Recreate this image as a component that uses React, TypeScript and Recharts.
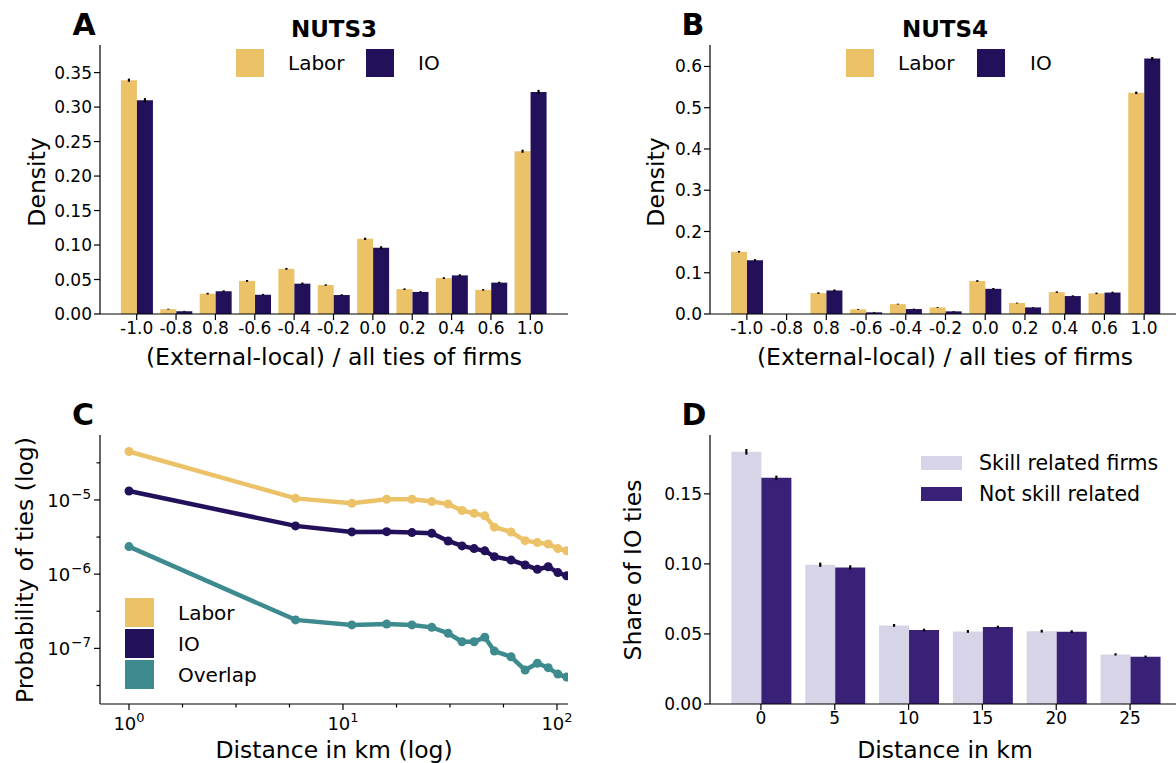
import React from 'react';
import { BarChart, Bar, XAxis, YAxis, ErrorBar, LineChart, Line } from 'recharts';

// ---------- Panel A / B data ----------
const BINS = ['-1.0', '-0.8', '0.8', '-0.6', '-0.4', '-0.2', '0.0', '0.2', '0.4', '0.6', '1.0'];
const NUTS3_LABOR = [0.339, 0.007, 0.0295, 0.048, 0.0655, 0.042, 0.109, 0.036, 0.052, 0.035, 0.236];
const NUTS3_LABOR_ERR = [0.0022, 0.0006, 0.0012, 0.0013, 0.0013, 0.0011, 0.0016, 0.0011, 0.0013, 0.0011, 0.0022];
const NUTS3_IO = [0.31, 0.004, 0.033, 0.028, 0.044, 0.0275, 0.096, 0.032, 0.056, 0.0455, 0.322];
const NUTS3_IO_ERR = [0.003, 0.0006, 0.0013, 0.0011, 0.0016, 0.0011, 0.0022, 0.0011, 0.0016, 0.0013, 0.003];
const NUTS4_LABOR = [0.151, 0, 0.0507, 0.0113, 0.024, 0.016, 0.08, 0.0266, 0.053, 0.05, 0.536];
const NUTS4_LABOR_ERR = [0.002, 0, 0.0018, 0.001, 0.001, 0.001, 0.002, 0.001, 0.0018, 0.0018, 0.003];
const NUTS4_IO = [0.13, 0, 0.057, 0.004, 0.012, 0.0064, 0.061, 0.016, 0.0435, 0.052, 0.619];
const NUTS4_IO_ERR = [0.003, 0, 0.0025, 0.001, 0.001, 0.001, 0.002, 0.001, 0.0018, 0.002, 0.004];
const TICKS_A = [0, 0.05, 0.1, 0.15, 0.2, 0.25, 0.3, 0.35];
const TICKS_B = [0, 0.1, 0.2, 0.3, 0.4, 0.5, 0.6];

// ---------- Panel C data ----------
const DIST_KM = [1, 6, 11, 16, 21, 26, 31, 36, 41, 46, 51, 61, 71, 81, 91, 101, 111];
const LABOR_P = [4.5e-5, 1.05e-5, 9.0e-6, 1.02e-5, 1.02e-5, 9.5e-6, 8.8e-6, 7.2e-6, 6.6e-6, 6.1e-6, 4.3e-6, 3.7e-6, 2.83e-6, 2.66e-6, 2.55e-6, 2.21e-6, 2.07e-6];
const IO_P = [1.32e-5, 4.47e-6, 3.71e-6, 3.74e-6, 3.63e-6, 3.56e-6, 2.8e-6, 2.4e-6, 2.21e-6, 2.06e-6, 1.72e-6, 1.55e-6, 1.33e-6, 1.16e-6, 1.26e-6, 1.05e-6, 9.5e-7];
const OVERLAP_P = [2.35e-6, 2.42e-7, 2.07e-7, 2.13e-7, 2.07e-7, 1.92e-7, 1.6e-7, 1.23e-7, 1.23e-7, 1.41e-7, 9.2e-8, 7.7e-8, 5.1e-8, 6.3e-8, 5.5e-8, 4.5e-8, 4.1e-8];
const C_X_TICKS = [1, 10 ** 0.25, 10 ** 0.5, 10 ** 0.75, 10, 10 ** 1.25, 10 ** 1.5, 10 ** 1.75, 100];
const C_Y_TICKS = [10 ** -7.5, 1e-7, 10 ** -6.5, 1e-6, 10 ** -5.5, 1e-5, 10 ** -4.5];

// ---------- Panel D data ----------
const DIST_BINS = ['0', '5', '10', '15', '20', '25'];
const SKILL = [0.18, 0.0994, 0.0561, 0.0518, 0.052, 0.0354];
const SKILL_ERR = [0.002, 0.0015, 0.001, 0.001, 0.001, 0.0008];
const NOT_SKILL = [0.1614, 0.0975, 0.0528, 0.0549, 0.0516, 0.0338];
const NOT_SKILL_ERR = [0.0016, 0.0015, 0.001, 0.001, 0.001, 0.0008];
const TICKS_D = [0, 0.05, 0.1, 0.15];

const FONT = 'DejaVu Sans';
const C_LABOR = '#ecc268';
const C_IO = '#23105b';
const C_OVER = '#3e8b8f';
const C_SKILL = '#d8d4e7';
const C_NOT = '#3a2178';

const nuts3 = BINS.map((b, i) => ({ bin: b, labor: NUTS3_LABOR[i], laborErr: NUTS3_LABOR_ERR[i], io: NUTS3_IO[i], ioErr: NUTS3_IO_ERR[i] }));
const nuts4 = BINS.map((b, i) => ({ bin: b, labor: NUTS4_LABOR[i], laborErr: NUTS4_LABOR_ERR[i], io: NUTS4_IO[i], ioErr: NUTS4_IO_ERR[i] }));
const distData = DIST_KM.map((d, i) => ({ d, labor: LABOR_P[i], io: IO_P[i], overlap: OVERLAP_P[i] }));
const dData = DIST_BINS.map((b, i) => ({ bin: b, skill: SKILL[i], skillErr: SKILL_ERR[i], notSkill: NOT_SKILL[i], notSkillErr: NOT_SKILL_ERR[i] }));

const tickStyle = { fontSize: 17, fill: '#000', fontFamily: FONT };
const axisLine = { stroke: '#000', strokeWidth: 1.2 };
const tickLine = { stroke: '#000', strokeWidth: 1.2 };

const isMajor = (v: number) => Math.abs(Math.log10(v) - Math.round(Math.log10(v))) < 1e-6;

const LogYTick = (props: any) => {
  const { x, y, payload } = props;
  const v = payload.value;
  const major = isMajor(v);
  const ax = x + 8;
  const exp = Math.round(Math.log10(v));
  return (
    <g>
      <line x1={ax} x2={ax - (major ? 6 : 3.5)} y1={y} y2={y} stroke="#000" strokeWidth={1.2} />
      {major && (
        <text x={x - 1} y={y + 7} textAnchor="end" fontSize={18} fontFamily={FONT} fill="#000">
          10<tspan dx={1} dy={-8} fontSize={13.5}>{'\u2212' + Math.abs(exp)}</tspan>
        </text>
      )}
    </g>
  );
};

const LogXTick = (props: any) => {
  const { x, y, payload } = props;
  const v = payload.value;
  const major = isMajor(v);
  const ay = y - 8;
  const exp = Math.round(Math.log10(v));
  return (
    <g>
      <line x1={x} x2={x} y1={ay} y2={ay + (major ? 6 : 3.5)} stroke="#000" strokeWidth={1.2} />
      {major && (
        <text x={x} y={y + 18} textAnchor="middle" fontSize={18} fontFamily={FONT} fill="#000">
          10<tspan dy={-8} fontSize={13}>{String(exp)}</tspan>
        </text>
      )}
    </g>
  );
};

const DensityPanel = ({ data, width, marginLeft, marginRight, ticks, domainMax, fmt, padL, padR }: any) => (
  <BarChart width={width} height={380} data={data} margin={{ top: 45, right: marginRight, bottom: 36, left: marginLeft }} barGap={0} barCategoryGap="10%">
    <XAxis dataKey="bin" interval={0} axisLine={axisLine} tickLine={tickLine} tick={tickStyle} tickSize={6} height={30} padding={{ left: padL, right: padR }} />
    <YAxis type="number" domain={[0, domainMax]} ticks={ticks} tickFormatter={fmt} axisLine={axisLine} tickLine={tickLine} tick={tickStyle} tickSize={6} width={60} interval={0} />
    <Bar dataKey="labor" fill={C_LABOR} isAnimationActive={false}>
      <ErrorBar dataKey="laborErr" width={0} strokeWidth={2.2} stroke="#000" direction="y" />
    </Bar>
    <Bar dataKey="io" fill={C_IO} isAnimationActive={false}>
      <ErrorBar dataKey="ioErr" width={0} strokeWidth={2.2} stroke="#000" direction="y" />
    </Bar>
  </BarChart>
);

const txt = { fontFamily: FONT, fill: '#000' } as any;

export default function App() {
  return (
    <div style={{ position: 'absolute', left: 0, top: 0, width: 1176, height: 763, background: '#fff', overflow: 'hidden', fontFamily: FONT }}>
      {/* Panel A */}
      <div style={{ position: 'absolute', left: 0, top: 0 }}>
        <DensityPanel data={nuts3} width={590} marginLeft={40} marginRight={22} ticks={TICKS_A} domainMax={0.39} fmt={(v: number) => v.toFixed(2)} padL={17} padR={18} />
      </div>
      {/* Panel B */}
      <div style={{ position: 'absolute', left: 590, top: 0 }}>
        <DensityPanel data={nuts4} width={586} marginLeft={60} marginRight={0} ticks={TICKS_B} domainMax={0.652} fmt={(v: number) => v.toFixed(1)} padL={17} padR={12} />
      </div>
      {/* Panel C */}
      <div style={{ position: 'absolute', left: 0, top: 390 }}>
        <LineChart width={590} height={373} data={distData} margin={{ top: 45, right: 22, bottom: 29, left: 40 }}>
          <XAxis dataKey="d" type="number" scale="log" domain={[0.732, 112.6]} allowDataOverflow ticks={C_X_TICKS} interval={0} axisLine={axisLine} tickLine={false} tick={<LogXTick />} tickSize={6} tickMargin={2} height={30} />
          <YAxis type="number" scale="log" domain={[1.78e-8, 7.5e-5]} allowDataOverflow ticks={C_Y_TICKS} interval={0} axisLine={axisLine} tickLine={false} tick={<LogYTick />} tickSize={6} tickMargin={2} width={60} />
          <Line dataKey="labor" stroke={C_LABOR} strokeWidth={4.5} dot={{ r: 4.5, fill: C_LABOR, stroke: C_LABOR, strokeWidth: 0 }} isAnimationActive={false} />
          <Line dataKey="io" stroke={C_IO} strokeWidth={4.5} dot={{ r: 4.5, fill: C_IO, stroke: C_IO, strokeWidth: 0 }} isAnimationActive={false} />
          <Line dataKey="overlap" stroke={C_OVER} strokeWidth={4.5} dot={{ r: 4.5, fill: C_OVER, stroke: C_OVER, strokeWidth: 0 }} isAnimationActive={false} />
        </LineChart>
      </div>
      {/* Panel D */}
      <div style={{ position: 'absolute', left: 590, top: 390 }}>
        <BarChart width={586} height={373} data={dData} margin={{ top: 45, right: 0, bottom: 29, left: 60 }} barGap={0} barCategoryGap="10%">
          <XAxis dataKey="bin" interval={0} axisLine={axisLine} tickLine={tickLine} tick={tickStyle} tickSize={6} height={30} padding={{ left: 14, right: 9 }} />
          <YAxis type="number" domain={[0, 0.192]} ticks={TICKS_D} tickFormatter={(v: number) => v.toFixed(2)} axisLine={axisLine} tickLine={tickLine} tick={tickStyle} tickSize={6} width={60} interval={0} />
          <Bar dataKey="skill" fill={C_SKILL} isAnimationActive={false}>
            <ErrorBar dataKey="skillErr" width={0} strokeWidth={2.2} stroke="#000" direction="y" />
          </Bar>
          <Bar dataKey="notSkill" fill={C_NOT} isAnimationActive={false}>
            <ErrorBar dataKey="notSkillErr" width={0} strokeWidth={2.2} stroke="#000" direction="y" />
          </Bar>
        </BarChart>
      </div>

      {/* Overlay texts and legends */}
      <svg width={1176} height={763} style={{ position: 'absolute', left: 0, top: 0, pointerEvents: 'none' }}>
        {/* panel letters */}
        <text x={84} y={35} textAnchor="middle" fontSize={30} fontWeight="bold" {...txt}>A</text>
        <text x={693} y={35} textAnchor="middle" fontSize={30} fontWeight="bold" {...txt}>B</text>
        <text x={83} y={425} textAnchor="middle" fontSize={30} fontWeight="bold" {...txt}>C</text>
        <text x={694} y={425} textAnchor="middle" fontSize={30} fontWeight="bold" {...txt}>D</text>
        {/* titles */}
        <text x={334} y={37} textAnchor="middle" fontSize={23} fontWeight="bold" {...txt}>NUTS3</text>
        <text x={945} y={37} textAnchor="middle" fontSize={23} fontWeight="bold" {...txt}>NUTS4</text>
        {/* legend A */}
        <rect x={236} y={49} width={28} height={28} fill={C_LABOR} />
        <text x={288} y={63} dominantBaseline="central" fontSize={20} {...txt}>Labor</text>
        <rect x={366} y={49} width={28} height={28} fill={C_IO} />
        <text x={418} y={63} dominantBaseline="central" fontSize={20} {...txt}>IO</text>
        {/* legend B */}
        <rect x={846} y={49} width={28} height={28} fill={C_LABOR} />
        <text x={898} y={63} dominantBaseline="central" fontSize={20} {...txt}>Labor</text>
        <rect x={977} y={49} width={28} height={28} fill={C_IO} />
        <text x={1030} y={63} dominantBaseline="central" fontSize={20} {...txt}>IO</text>
        {/* legend C */}
        <rect x={125} y={598} width={29} height={29} fill={C_LABOR} />
        <text x={178} y={613} dominantBaseline="central" fontSize={20} {...txt}>Labor</text>
        <rect x={125} y={629} width={29} height={29} fill={C_IO} />
        <text x={178} y={644} dominantBaseline="central" fontSize={20} {...txt}>IO</text>
        <rect x={125} y={660} width={29} height={29} fill={C_OVER} />
        <text x={178} y={675} dominantBaseline="central" fontSize={20} {...txt}>Overlap</text>
        {/* legend D */}
        <rect x={921} y={456} width={41} height={14} fill={C_SKILL} />
        <text x={979} y={463} dominantBaseline="central" fontSize={20.5} {...txt}>Skill related firms</text>
        <rect x={921} y={487} width={41} height={14} fill={C_NOT} />
        <text x={979} y={494} dominantBaseline="central" fontSize={20.5} {...txt}>Not skill related</text>
        {/* x axis titles */}
        <text x={334} y={357} textAnchor="middle" dominantBaseline="central" fontSize={23.5} {...txt}>(External-local) / all ties of firms</text>
        <text x={945} y={357} textAnchor="middle" dominantBaseline="central" fontSize={23.5} {...txt}>(External-local) / all ties of firms</text>
        <text x={334} y={750} textAnchor="middle" dominantBaseline="central" fontSize={23.5} {...txt}>Distance in km (log)</text>
        <text x={945} y={750} textAnchor="middle" dominantBaseline="central" fontSize={23.5} {...txt}>Distance in km</text>
        {/* y axis titles */}
        <text x={37} y={182} transform="rotate(-90 37 182)" textAnchor="middle" dominantBaseline="central" fontSize={23.5} {...txt}>Density</text>
        <text x={656} y={182} transform="rotate(-90 656 182)" textAnchor="middle" dominantBaseline="central" fontSize={23.5} {...txt}>Density</text>
        <text x={25} y={570} transform="rotate(-90 25 570)" textAnchor="middle" dominantBaseline="central" fontSize={23.5} {...txt}>Probability of ties (log)</text>
        <text x={633} y={570} transform="rotate(-90 633 570)" textAnchor="middle" dominantBaseline="central" fontSize={23.5} {...txt}>Share of IO ties</text>
      </svg>
    </div>
  );
}
